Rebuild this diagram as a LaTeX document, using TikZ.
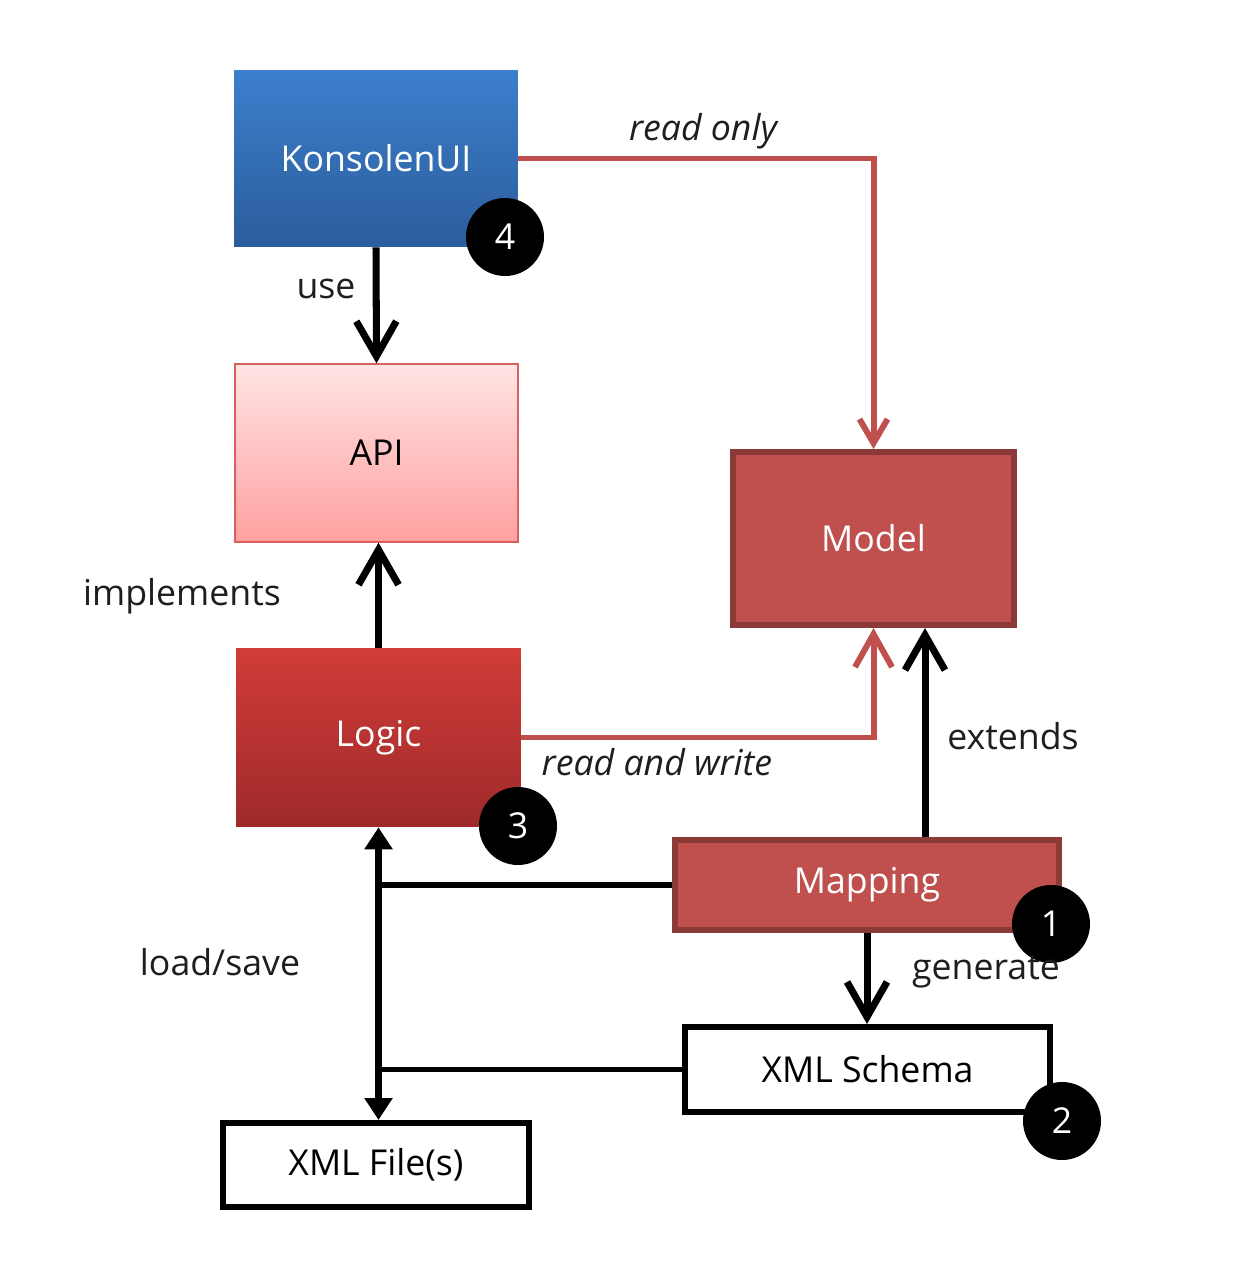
\documentclass[tikz,border=0pt]{standalone}
\usepackage{fontspec}
\setmainfont{Open Sans}
\usetikzlibrary{arrows.meta}
\definecolor{uiTop}{HTML}{3C7FCD}
\definecolor{uiBot}{HTML}{2B5D9B}
\definecolor{apiTop}{HTML}{FFE4E4}
\definecolor{apiBot}{HTML}{FFA0A0}
\definecolor{apiLine}{HTML}{D8605E}
\definecolor{logicTop}{HTML}{D13C39}
\definecolor{logicBot}{HTML}{9E2A2A}
\definecolor{modelFill}{HTML}{C0504D}
\definecolor{modelLine}{HTML}{8C3A38}
\definecolor{txt}{HTML}{1E1E1E}
\begin{document}
\begin{tikzpicture}[x=0.02cm,y=-0.02cm,font=\fontsize{20.3}{24}\selectfont]
    \tikzstyle{box} = [rectangle, inner sep=0pt]
    \tikzstyle{plain} = [box, draw=black, line width=3.4pt, fill=white, text=black]
    \tikzstyle{redbox} = [box, draw=modelLine, line width=3.4pt, fill=modelFill, text=white]
    \tikzstyle{badge} = [circle, fill=black, text=white, minimum size=1.56cm, inner sep=0pt]
    \tikzstyle{lbl} = [text=txt, inner sep=0pt]
    \tikzstyle{blk} = [line width=4pt, -{Straight Barb[length=0.7cm,width=0.8cm]}]
    \tikzstyle{red} = [line width=3.4pt, draw=modelFill]
    \useasboundingbox (0,0) rectangle (1256,1273);
        % boxes
        \node[box, minimum width=5.68cm, minimum height=3.54cm, top color=uiTop, bottom color=uiBot, text=white] (ui) at (376,158.5) {KonsolenUI};
        \node[box, minimum width=5.66cm, minimum height=3.56cm, top color=apiTop, bottom color=apiBot, draw=apiLine, line width=0.8pt] (api) at (376.5,453) {API};
        \node[box, minimum width=5.70cm, minimum height=3.58cm, top color=logicTop, bottom color=logicBot, text=white] (logic) at (378.5,737.5) {Logic};
        \node[redbox, minimum width=5.62cm, minimum height=3.46cm] (model) at (873.5,538.5) {Model};
        \node[redbox, minimum width=7.68cm, minimum height=1.80cm] (mapping) at (867,885) {Mapping};
        \node[plain, minimum width=7.30cm, minimum height=1.70cm] (schema) at (867.5,1069.5) {XML Schema};
        \node[plain, minimum width=6.12cm, minimum height=1.68cm] (files) at (376,1165) {XML File(s)};
        \coordinate (ext) at (925,0);
        % connectors
        \draw[blk] (ui.south) -- (api.north);
        \draw[blk] (logic.north) -- (logic.north |- api.south);
        \draw[red, -{Straight Barb[length=0.48cm,width=0.56cm]}] (ui.east) -| (model.north);
        \draw[red, -{Straight Barb[length=0.66cm,width=0.74cm]}] (logic.east) -| (model.south);
        \draw[blk] (mapping.north -| ext) -- (model.south -| ext);
        \draw[blk] (mapping.south) -- (mapping.south |- schema.north);
        \draw[line width=4pt, {Triangle[length=0.44cm,width=0.54cm]}-{Triangle[length=0.44cm,width=0.54cm]}] (logic.south) -- (logic.south |- files.north);
        \draw[line width=3.4pt] (mapping.west) -- (mapping.west -| logic.south);
        \draw[line width=3.4pt] (schema.west) -- (schema.west -| logic.south);
        % badges
        \node[badge] (b4) at (505,237) {4};
        \node[badge] (b3) at (518,826) {3};
        \node[badge] (b1) at (1051,924) {1};
        \node[badge] (b2) at (1062,1121) {2};
        %%% labels
        \node[lbl] (use) at (326,289) {use};
        \node[lbl] (impl) at (182,596) {implements};
        \node[lbl] (ro) at (703,131) {\itshape read only};
        \node[lbl] (rw) at (657,762) {\itshape read and write};
        \node[lbl] (extends) at (1013,736) {extends};
        \node[lbl] (gen) at (986,972) {generate};
        \node[lbl] (ls) at (220,962) {load/save};
    \end{tikzpicture}
\end{document}
